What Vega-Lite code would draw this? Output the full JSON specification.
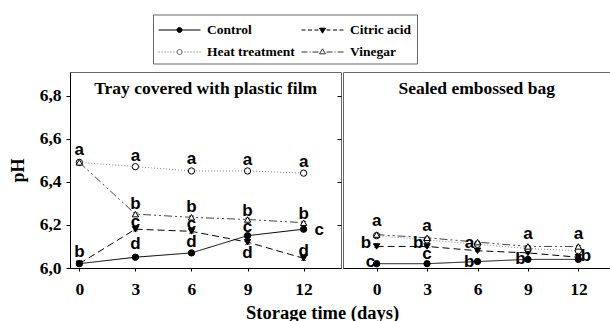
{
  "$schema": "https://vega.github.io/schema/vega-lite/v6.json",
  "padding": {"left": 8, "top": 14, "right": 0, "bottom": 0},
  "background": "white",
  "spacing": 0,
  "title": {"text": "Storage time (days)", "orient": "bottom", "anchor": "middle", "font": "Liberation Serif", "fontWeight": "bold", "fontSize": 18.5, "color": "black", "offset": 6, "dx": 12},
  "config": {
    "view": {"stroke": "#666", "strokeWidth": 1},
    "axis": {"labelFont": "Liberation Serif", "labelFontWeight": "bold", "labelFontSize": 17.5, "labelColor": "black", "domainColor": "black", "tickColor": "black", "grid": false, "titleFont": "Liberation Serif", "titleFontWeight": "bold", "titleColor": "black", "titleFontSize": 18}
  },
  "datasets": {
    "ph": [
      {"panel": "tray", "series": "Control", "day": 0, "ph": 6.02, "err": 0.006},
      {"panel": "tray", "series": "Control", "day": 3, "ph": 6.05, "err": 0.01},
      {"panel": "tray", "series": "Control", "day": 6, "ph": 6.07, "err": 0.01},
      {"panel": "tray", "series": "Control", "day": 9, "ph": 6.15, "err": 0.01},
      {"panel": "tray", "series": "Control", "day": 12, "ph": 6.18, "err": 0.006},
      {"panel": "tray", "series": "Citric acid", "day": 0, "ph": 6.02, "err": 0.006},
      {"panel": "tray", "series": "Citric acid", "day": 3, "ph": 6.18, "err": 0.008},
      {"panel": "tray", "series": "Citric acid", "day": 6, "ph": 6.17, "err": 0.008},
      {"panel": "tray", "series": "Citric acid", "day": 9, "ph": 6.12, "err": 0.01},
      {"panel": "tray", "series": "Citric acid", "day": 12, "ph": 6.045, "err": 0.01},
      {"panel": "tray", "series": "Heat treatment", "day": 0, "ph": 6.49, "err": 0.005},
      {"panel": "tray", "series": "Heat treatment", "day": 3, "ph": 6.47, "err": 0.004},
      {"panel": "tray", "series": "Heat treatment", "day": 6, "ph": 6.45, "err": 0.004},
      {"panel": "tray", "series": "Heat treatment", "day": 9, "ph": 6.45, "err": 0.004},
      {"panel": "tray", "series": "Heat treatment", "day": 12, "ph": 6.44, "err": 0.006},
      {"panel": "tray", "series": "Vinegar", "day": 0, "ph": 6.49, "err": 0.005},
      {"panel": "tray", "series": "Vinegar", "day": 3, "ph": 6.25, "err": 0.006},
      {"panel": "tray", "series": "Vinegar", "day": 6, "ph": 6.235, "err": 0.006},
      {"panel": "tray", "series": "Vinegar", "day": 9, "ph": 6.225, "err": 0.006},
      {"panel": "tray", "series": "Vinegar", "day": 12, "ph": 6.21, "err": 0.006},
      {"panel": "bag", "series": "Control", "day": 0, "ph": 6.02, "err": 0.003},
      {"panel": "bag", "series": "Control", "day": 3, "ph": 6.02, "err": 0.003},
      {"panel": "bag", "series": "Control", "day": 6, "ph": 6.03, "err": 0.003},
      {"panel": "bag", "series": "Control", "day": 9, "ph": 6.04, "err": 0.004},
      {"panel": "bag", "series": "Control", "day": 12, "ph": 6.04, "err": 0.004},
      {"panel": "bag", "series": "Citric acid", "day": 0, "ph": 6.1, "err": 0.004},
      {"panel": "bag", "series": "Citric acid", "day": 3, "ph": 6.1, "err": 0.004},
      {"panel": "bag", "series": "Citric acid", "day": 6, "ph": 6.08, "err": 0.004},
      {"panel": "bag", "series": "Citric acid", "day": 9, "ph": 6.07, "err": 0.004},
      {"panel": "bag", "series": "Citric acid", "day": 12, "ph": 6.05, "err": 0.004},
      {"panel": "bag", "series": "Heat treatment", "day": 0, "ph": 6.15, "err": 0.004},
      {"panel": "bag", "series": "Heat treatment", "day": 3, "ph": 6.13, "err": 0.004},
      {"panel": "bag", "series": "Heat treatment", "day": 6, "ph": 6.11, "err": 0.004},
      {"panel": "bag", "series": "Heat treatment", "day": 9, "ph": 6.09, "err": 0.004},
      {"panel": "bag", "series": "Heat treatment", "day": 12, "ph": 6.08, "err": 0.004},
      {"panel": "bag", "series": "Vinegar", "day": 0, "ph": 6.155, "err": 0.004},
      {"panel": "bag", "series": "Vinegar", "day": 3, "ph": 6.14, "err": 0.004},
      {"panel": "bag", "series": "Vinegar", "day": 6, "ph": 6.12, "err": 0.004},
      {"panel": "bag", "series": "Vinegar", "day": 9, "ph": 6.1, "err": 0.004},
      {"panel": "bag", "series": "Vinegar", "day": 12, "ph": 6.1, "err": 0.004}
    ],
    "letters": [
      {"panel": "tray", "day": 0, "ph": 6.545, "letter": "a"},
      {"panel": "tray", "day": 0, "ph": 6.074, "letter": "b"},
      {"panel": "tray", "day": 3, "ph": 6.52, "letter": "a"},
      {"panel": "tray", "day": 3, "ph": 6.298, "letter": "b"},
      {"panel": "tray", "day": 3, "ph": 6.213, "letter": "c"},
      {"panel": "tray", "day": 3, "ph": 6.113, "letter": "d"},
      {"panel": "tray", "day": 6, "ph": 6.506, "letter": "a"},
      {"panel": "tray", "day": 6, "ph": 6.285, "letter": "b"},
      {"panel": "tray", "day": 6, "ph": 6.205, "letter": "c"},
      {"panel": "tray", "day": 6, "ph": 6.12, "letter": "d"},
      {"panel": "tray", "day": 9, "ph": 6.5, "letter": "a"},
      {"panel": "tray", "day": 9, "ph": 6.263, "letter": "b"},
      {"panel": "tray", "day": 9, "ph": 6.19, "letter": "c"},
      {"panel": "tray", "day": 9, "ph": 6.069, "letter": "d"},
      {"panel": "tray", "day": 12, "ph": 6.49, "letter": "a"},
      {"panel": "tray", "day": 12, "ph": 6.25, "letter": "b"},
      {"panel": "tray", "day": 12.83, "ph": 6.177, "letter": "c"},
      {"panel": "tray", "day": 12, "ph": 6.08, "letter": "d"},
      {"panel": "bag", "day": 0, "ph": 6.217, "letter": "a"},
      {"panel": "bag", "day": -0.63, "ph": 6.117, "letter": "b"},
      {"panel": "bag", "day": -0.37, "ph": 6.027, "letter": "c"},
      {"panel": "bag", "day": 3, "ph": 6.197, "letter": "a"},
      {"panel": "bag", "day": 2.47, "ph": 6.117, "letter": "b"},
      {"panel": "bag", "day": 3, "ph": 6.063, "letter": "c"},
      {"panel": "bag", "day": 5.53, "ph": 6.115, "letter": "a"},
      {"panel": "bag", "day": 5.5, "ph": 6.03, "letter": "b"},
      {"panel": "bag", "day": 9, "ph": 6.159, "letter": "a"},
      {"panel": "bag", "day": 8.56, "ph": 6.043, "letter": "b"},
      {"panel": "bag", "day": 12, "ph": 6.159, "letter": "a"},
      {"panel": "bag", "day": 12.45, "ph": 6.057, "letter": "b"}
    ],
    "titles": [
      {"panel": "tray", "day": 6.76, "ph": 6.83, "label": "Tray covered with plastic film"},
      {"panel": "bag", "day": 5.95, "ph": 6.83, "label": "Sealed embossed bag"}
    ]
  },
  "hconcat": [
    {
      "width": 271,
      "height": 196,
      "resolve": {"axis": {"y": "independent"}},
      "layer": [
        {
          "data": {"name": "ph"},
          "transform": [{"filter": "datum.panel == 'tray'"}],
          "mark": {"type": "line", "strokeWidth": 1},
          "encoding": {
            "x": {"field": "day", "type": "quantitative", "scale": {"domain": [-0.5, 14], "nice": false, "zero": false}, "axis": {"values": [0, 3, 6, 9, 12], "tickSize": 3, "labelPadding": 9, "title": null}},
            "y": {"field": "ph", "type": "quantitative", "scale": {"domain": [6.0, 6.909], "nice": false, "zero": false}, "axis": {"values": [6.0, 6.2, 6.4, 6.6, 6.8], "labelExpr": "replace(format(datum.value, '.1f'), '.', ',')", "tickSize": 4, "labelPadding": 5, "title": "pH", "titlePadding": 12}},
            "detail": {"field": "series"},
            "color": {"condition": [{"test": "datum.series == 'Heat treatment'", "value": "#888888"}, {"test": "datum.series == 'Vinegar'", "value": "#444444"}], "value": "#000000"},
            "strokeDash": {"condition": [{"test": "datum.series == 'Citric acid'", "value": [7, 4]}, {"test": "datum.series == 'Heat treatment'", "value": [1, 2]}, {"test": "datum.series == 'Vinegar'", "value": [8, 3, 2, 3, 2, 3]}], "value": [1, 0]}
          }
        },
        {
          "data": {"name": "ph"},
          "transform": [{"filter": "datum.panel == 'tray'"}],
          "mark": {"type": "errorbar", "color": "black", "thickness": 1, "ticks": {"size": 5, "color": "black"}},
          "encoding": {
            "x": {"field": "day", "type": "quantitative"},
            "y": {"field": "ph", "type": "quantitative", "axis": {"orient": "right", "values": [6.0, 6.2, 6.4, 6.6, 6.8], "labels": false, "domain": false, "tickSize": -4, "title": null}},
            "yError": {"field": "err"}
          }
        },
        {
          "data": {"name": "ph"},
          "transform": [{"filter": "datum.panel == 'tray'"}],
          "mark": {"type": "point", "filled": true, "stroke": "black", "strokeWidth": 1, "size": 40, "opacity": 1},
          "encoding": {
            "x": {"field": "day", "type": "quantitative"},
            "y": {"field": "ph", "type": "quantitative", "axis": null},
            "shape": {"condition": [{"test": "datum.series == 'Citric acid'", "value": "triangle-down"}, {"test": "datum.series == 'Vinegar'", "value": "triangle-up"}], "value": "circle"},
            "fill": {"condition": {"test": "datum.series == 'Control' || datum.series == 'Citric acid'", "value": "black"}, "value": "white"}
          }
        },
        {
          "data": {"name": "ph"},
          "transform": [{"filter": "datum.panel == 'legend'"}],
          "mark": {"type": "point", "filled": true, "strokeWidth": 1, "opacity": 1},
          "encoding": {
            "x": {"field": "day", "type": "quantitative"},
            "y": {"field": "ph", "type": "quantitative", "axis": null},
            "shape": {"field": "series", "type": "nominal",
              "scale": {"domain": ["Control", "Heat treatment", "Citric acid", "Vinegar"],
                "range": [
                  "M-1,0H3.2M1.35,0A0.25,0.25,0,1,1,0.85,0A0.25,0.25,0,1,1,1.35,0Z",
                  "M-1,0h0.1M-0.7,0h0.1M-0.4,0h0.1M-0.1,0h0.1M0.2,0h0.1M0.5,0h0.1M1.35,0A0.25,0.25,0,1,1,0.85,0A0.25,0.25,0,1,1,1.35,0ZM1.6,0h0.1M1.9,0h0.1M2.2,0h0.1M2.5,0h0.1M2.8,0h0.1M3.1,0h0.1",
                  "M-1,0H-0.6M-0.35,0H0.05M0.3,0H0.7M0.8,-0.18L1.4,-0.18L1.1,0.32ZM1.5,0H1.9M2.15,0H2.55M2.8,0H3.2",
                  "M-1,0H-0.4M-0.2,0H-0.1M0.1,0H0.7M0.8,0.18L1.4,0.18L1.1,-0.32ZM1.5,0H2.1M2.3,0H2.4M2.6,0H3.2"
                ]},
              "legend": {
                "title": null, "orient": "none", "legendX": 83, "legendY": -57.5, "columns": 2,
                "symbolSize": 400, "symbolStrokeWidth": 1, "symbolOpacity": 1, "strokeColor": "#666", "padding": 5,
                "labelFont": "Liberation Serif", "labelFontWeight": "bold", "labelFontSize": 13.5, "labelColor": "black", "labelOffset": 28, "columnPadding": 4, "rowPadding": 5
              }
            },
            "fill": {"field": "series", "type": "nominal", "scale": {"domain": ["Control", "Heat treatment", "Citric acid", "Vinegar"], "range": ["black", "white", "black", "white"]}},
            "stroke": {"field": "series", "type": "nominal", "scale": {"domain": ["Control", "Heat treatment", "Citric acid", "Vinegar"], "range": ["black", "#555555", "black", "#333333"]}}
          }
        },
        {
          "data": {"name": "letters"},
          "transform": [{"filter": "datum.panel == 'tray'"}],
          "mark": {"type": "text", "font": "Liberation Sans", "fontWeight": "bold", "fontSize": 17, "color": "black", "baseline": "middle", "align": "center"},
          "encoding": {
            "x": {"field": "day", "type": "quantitative"},
            "y": {"field": "ph", "type": "quantitative", "axis": null},
            "text": {"field": "letter"}
          }
        },
        {
          "data": {"name": "titles"},
          "transform": [{"filter": "datum.panel == 'tray'"}],
          "mark": {"type": "text", "font": "Liberation Serif", "fontWeight": "bold", "fontSize": 17.5, "color": "black", "baseline": "middle", "align": "center"},
          "encoding": {
            "x": {"field": "day", "type": "quantitative"},
            "y": {"field": "ph", "type": "quantitative", "axis": null},
            "text": {"field": "label"}
          }
        }
      ]
    },
    {
      "width": 269,
      "height": 196,
      "layer": [
        {
          "data": {"name": "ph"},
          "transform": [{"filter": "datum.panel == 'bag'"}],
          "mark": {"type": "line", "strokeWidth": 1},
          "encoding": {
            "x": {"field": "day", "type": "quantitative", "scale": {"domain": [-2, 14], "nice": false, "zero": false}, "axis": {"values": [0, 3, 6, 9, 12], "tickSize": 3, "labelPadding": 9, "title": null}},
            "y": {"field": "ph", "type": "quantitative", "scale": {"domain": [6.0, 6.909], "nice": false, "zero": false}, "axis": null},
            "detail": {"field": "series"},
            "color": {"condition": [{"test": "datum.series == 'Heat treatment'", "value": "#888888"}, {"test": "datum.series == 'Vinegar'", "value": "#444444"}], "value": "#000000"},
            "strokeDash": {"condition": [{"test": "datum.series == 'Citric acid'", "value": [7, 4]}, {"test": "datum.series == 'Heat treatment'", "value": [1, 2]}, {"test": "datum.series == 'Vinegar'", "value": [8, 3, 2, 3, 2, 3]}], "value": [1, 0]}
          }
        },
        {
          "data": {"name": "ph"},
          "transform": [{"filter": "datum.panel == 'bag'"}],
          "mark": {"type": "errorbar", "color": "black", "thickness": 1, "ticks": {"size": 5, "color": "black"}},
          "encoding": {
            "x": {"field": "day", "type": "quantitative"},
            "y": {"field": "ph", "type": "quantitative"},
            "yError": {"field": "err"}
          }
        },
        {
          "data": {"name": "ph"},
          "transform": [{"filter": "datum.panel == 'bag'"}],
          "mark": {"type": "point", "filled": true, "stroke": "black", "strokeWidth": 1, "size": 40, "opacity": 1},
          "encoding": {
            "x": {"field": "day", "type": "quantitative"},
            "y": {"field": "ph", "type": "quantitative"},
            "shape": {"condition": [{"test": "datum.series == 'Citric acid'", "value": "triangle-down"}, {"test": "datum.series == 'Vinegar'", "value": "triangle-up"}], "value": "circle"},
            "fill": {"condition": {"test": "datum.series == 'Control' || datum.series == 'Citric acid'", "value": "black"}, "value": "white"}
          }
        },
        {
          "data": {"name": "letters"},
          "transform": [{"filter": "datum.panel == 'bag'"}],
          "mark": {"type": "text", "font": "Liberation Sans", "fontWeight": "bold", "fontSize": 17, "color": "black", "baseline": "middle", "align": "center"},
          "encoding": {
            "x": {"field": "day", "type": "quantitative"},
            "y": {"field": "ph", "type": "quantitative"},
            "text": {"field": "letter"}
          }
        },
        {
          "data": {"name": "titles"},
          "transform": [{"filter": "datum.panel == 'bag'"}],
          "mark": {"type": "text", "font": "Liberation Serif", "fontWeight": "bold", "fontSize": 17.5, "color": "black", "baseline": "middle", "align": "center"},
          "encoding": {
            "x": {"field": "day", "type": "quantitative"},
            "y": {"field": "ph", "type": "quantitative"},
            "text": {"field": "label"}
          }
        }
      ]
    }
  ]
}
